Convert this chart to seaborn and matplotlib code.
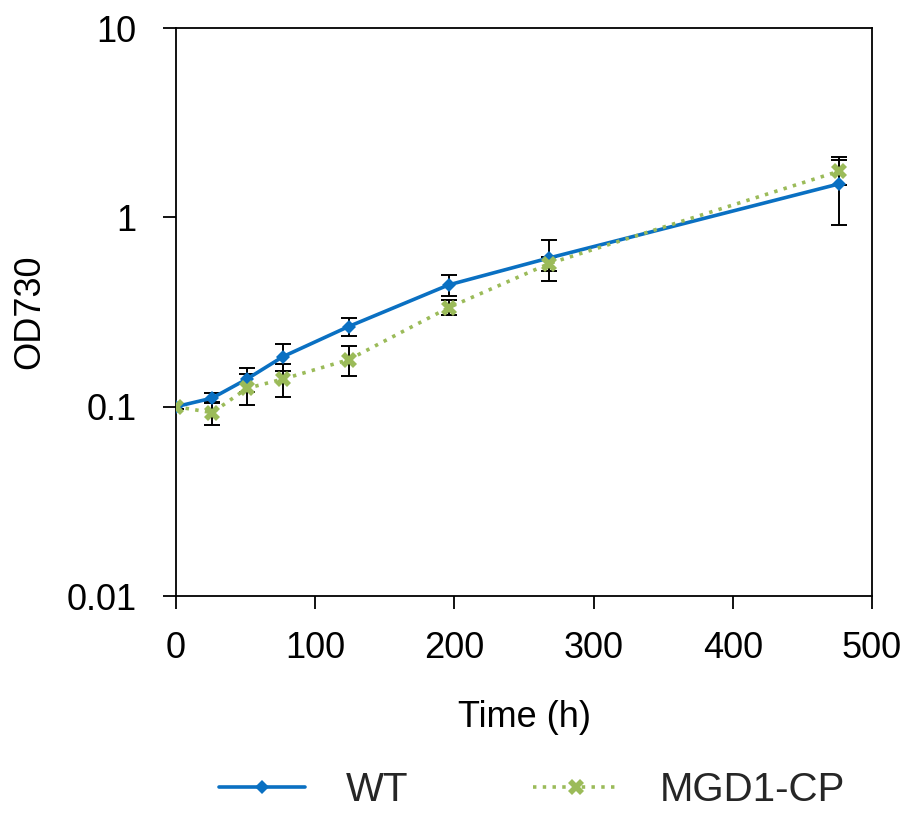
import numpy as np
import pandas as pd
import matplotlib
matplotlib.use("Agg")
import matplotlib.pyplot as plt
from matplotlib.ticker import FixedLocator, FixedFormatter, NullLocator
import seaborn as sns

# Growth curves (OD730) of wild type and the MGD1-CP line
time_h = [0, 26, 51, 77, 124, 196, 268, 476]
wt_od = [0.100, 0.111, 0.140, 0.184, 0.265, 0.440, 0.610, 1.50]
wt_err = [0.003, 0.007, 0.020, 0.030, 0.030, 0.056, 0.150, 0.590]
mgd_od = [0.100, 0.093, 0.125, 0.140, 0.177, 0.334, 0.570, 1.75]
mgd_err = [0.003, 0.013, 0.023, 0.028, 0.031, 0.030, 0.050, 0.260]

y_ticks = [0.01, 0.1, 1, 10]
y_tick_labels = ["0.01", "0.1", "1", "10"]
x_ticks = [0, 100, 200, 300, 400, 500]

df = pd.DataFrame({
    "Time (h)": time_h * 2,
    "OD730": wt_od + mgd_od,
    "err": wt_err + mgd_err,
    "line": ["WT"] * len(time_h) + ["MGD1-CP"] * len(time_h),
})

sns.set_style("white")
plt.rcParams["font.family"] = ["Liberation Sans", "DejaVu Sans"]

fig = plt.figure(figsize=(9.08, 8.14), dpi=100)
ax = fig.add_axes([0.1938, 0.2678, 0.7666, 0.6978])

blue = "#0A70C2"
green = "#9BBB59"

# error bars behind the markers
for name in ["WT", "MGD1-CP"]:
    sub = df[df["line"] == name]
    ax.errorbar(sub["Time (h)"], sub["OD730"], yerr=sub["err"], fmt="none",
                ecolor="black", elinewidth=1.4, capsize=5.5, capthick=1.4,
                zorder=2)

wt = df[df["line"] == "WT"]
mg = df[df["line"] == "MGD1-CP"]
sns.lineplot(data=wt, x="Time (h)", y="OD730", ax=ax, color=blue,
             marker="D", markersize=7.5, markeredgewidth=0, linewidth=2.6,
             label="WT", zorder=3)
sns.lineplot(data=mg, x="Time (h)", y="OD730", ax=ax, color=green,
             marker="X", markersize=11, markeredgewidth=0, linewidth=2.6,
             linestyle=(0, (0.95, 1.75)), dash_capstyle="butt",
             label="MGD1-CP", zorder=3)

ax.set_yscale("log")
ax.set_ylim(0.01, 10)
ax.set_xlim(0, 500)
ax.yaxis.set_major_locator(FixedLocator(y_ticks))
ax.yaxis.set_major_formatter(FixedFormatter(y_tick_labels))
ax.yaxis.set_minor_locator(NullLocator())
ax.set_xticks(x_ticks)
ax.set_xticklabels([str(t) for t in x_ticks])

for side in ["left", "right", "top", "bottom"]:
    ax.spines[side].set_visible(True)
    ax.spines[side].set_color("black")
    ax.spines[side].set_linewidth(1.3)

ax.tick_params(axis="both", which="major", direction="out", length=9.5,
               width=1.3, color="black", labelsize=26, labelcolor="black",
               bottom=True, left=True)
ax.tick_params(axis="x", pad=16)
ax.tick_params(axis="y", pad=19)

ax.set_xlabel("Time (h)", fontsize=26, labelpad=24, color="black")
ax.set_ylabel("OD730", fontsize=26, labelpad=14, color="black")

ax.get_legend().remove()
handles, labels = ax.get_legend_handles_labels()
fig.legend(handles, labels, loc="center", bbox_to_anchor=(0.586, 0.029),
           ncol=2, frameon=False, fontsize=29, handlelength=2.15,
           handletextpad=1.0, columnspacing=3.1, borderpad=0.2)

fig.savefig("out.png", dpi=100, facecolor="white")
